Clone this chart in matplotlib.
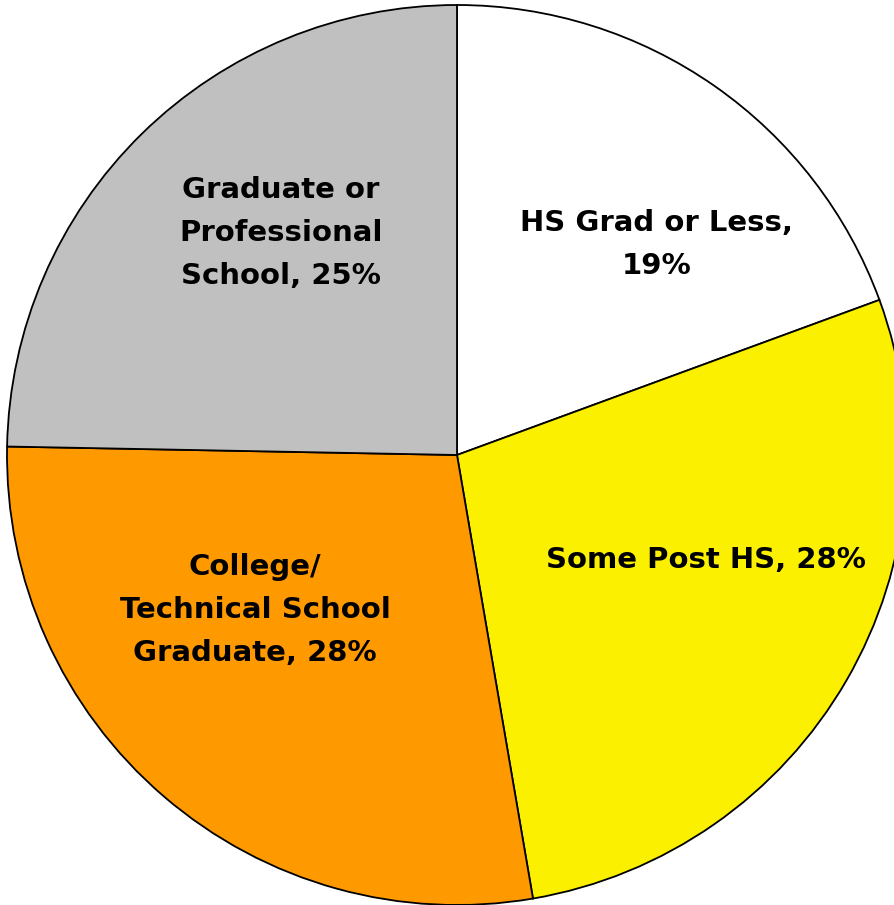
import matplotlib
matplotlib.use("Agg")
import matplotlib.pyplot as plt
import numpy as np

labels = ["HS Grad or Less,\n19%", "Some Post HS, 28%",
          "College/\nTechnical School\nGraduate, 28%",
          "Graduate or\nProfessional\nSchool, 25%"]
shares = [19.4, 27.9, 28.0, 24.7]
colors = ["#FFFFFF", "#FAF000", "#FF9900", "#C0C0C0"]

# label spots as (angle in degrees, fraction of radius)
label_spots = [(46.5, 0.645), (-23, 0.60), (-142.5, 0.565), (128.4, 0.63)]

fig = plt.figure(figsize=(8.95, 9.05), dpi=100)
ax = fig.add_axes([0, 0, 1, 1])
wedges, _ = ax.pie(shares, colors=colors, startangle=90, counterclock=False,
                   radius=1.0, wedgeprops=dict(edgecolor="black", linewidth=1.3))

for text, (ang, r) in zip(labels, label_spots):
    a = np.deg2rad(ang)
    ax.text(r * np.cos(a), r * np.sin(a), text, ha="center", va="center",
            fontsize=21, fontweight="bold", family="DejaVu Sans",
            linespacing=1.68, color="black")

ax.set_xlim(-457 / 450, (895 - 457) / 450)
ax.set_ylim(-450 / 450, 455 / 450)
ax.set_aspect("auto")
ax.axis("off")
fig.savefig("out.png", dpi=100)
